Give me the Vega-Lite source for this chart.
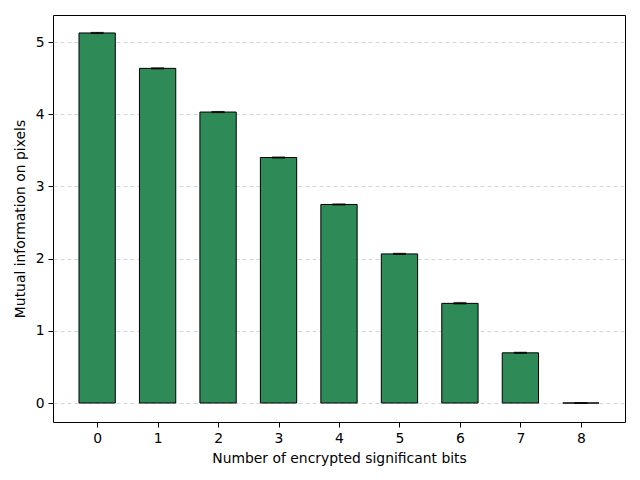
{
  "$schema": "https://vega.github.io/schema/vega-lite/v6.json",
  "autosize": "none",
  "width": 572,
  "height": 407,
  "padding": {"left": 53, "top": 15, "right": 15, "bottom": 58},
  "background": "white",
  "config": {
    "view": {"stroke": "black", "strokeWidth": 1},
    "font": "DejaVu Sans",
    "axis": {
      "labelFont": "DejaVu Sans",
      "titleFont": "DejaVu Sans",
      "labelFontSize": 13.9,
      "titleFontSize": 13.9,
      "titleFontWeight": "normal",
      "labelColor": "black",
      "titleColor": "black",
      "tickColor": "black",
      "tickSize": 5,
      "domain": false
    }
  },
  "data": {
    "values": [
      {"bits": 0, "mi": 5.125, "lo": 5.12, "hi": 5.13},
      {"bits": 1, "mi": 4.635, "lo": 4.63, "hi": 4.64},
      {"bits": 2, "mi": 4.03, "lo": 4.025, "hi": 4.035},
      {"bits": 3, "mi": 3.40, "lo": 3.395, "hi": 3.405},
      {"bits": 4, "mi": 2.75, "lo": 2.745, "hi": 2.755},
      {"bits": 5, "mi": 2.065, "lo": 2.06, "hi": 2.07},
      {"bits": 6, "mi": 1.38, "lo": 1.375, "hi": 1.39},
      {"bits": 7, "mi": 0.695, "lo": 0.69, "hi": 0.70},
      {"bits": 8, "mi": 0.0, "lo": -0.003, "hi": 0.003}
    ]
  },
  "layer": [
    {
      "mark": {"type": "bar", "width": 36.3, "fill": "#2e8b57", "stroke": "black", "strokeWidth": 1},
      "encoding": {
        "x": {
          "field": "bits", "type": "quantitative",
          "scale": {"domain": [-0.73, 8.73], "nice": false, "zero": false, "padding": 0},
          "axis": {"values": [0,1,2,3,4,5,6,7,8], "format": "d", "grid": false, "title": "Number of encrypted significant bits", "titlePadding": 7, "labelPadding": 4}
        },
        "y": {
          "field": "mi", "type": "quantitative",
          "scale": {"domain": [-0.263, 5.374], "nice": false, "zero": false, "padding": 0},
          "axis": {"values": [0,1,2,3,4,5], "format": "d", "grid": true, "gridColor": "#cccccc", "gridDash": [4, 3], "gridWidth": 0.8, "title": "Mutual information on pixels", "titlePadding": 8, "labelPadding": 4}
        },
        "y2": {"datum": 0}
      }
    },
    {
      "mark": {"type": "rule", "color": "black", "strokeWidth": 1.5},
      "encoding": {
        "x": {"field": "bits", "type": "quantitative"},
        "y": {"field": "lo", "type": "quantitative"},
        "y2": {"field": "hi"}
      }
    },
    {
      "mark": {"type": "tick", "orient": "horizontal", "color": "black", "size": 13, "thickness": 1.5},
      "encoding": {
        "x": {"field": "bits", "type": "quantitative"},
        "y": {"field": "hi", "type": "quantitative"}
      }
    },
    {
      "mark": {"type": "tick", "orient": "horizontal", "color": "black", "size": 13, "thickness": 1.5},
      "encoding": {
        "x": {"field": "bits", "type": "quantitative"},
        "y": {"field": "lo", "type": "quantitative"}
      }
    }
  ]
}
